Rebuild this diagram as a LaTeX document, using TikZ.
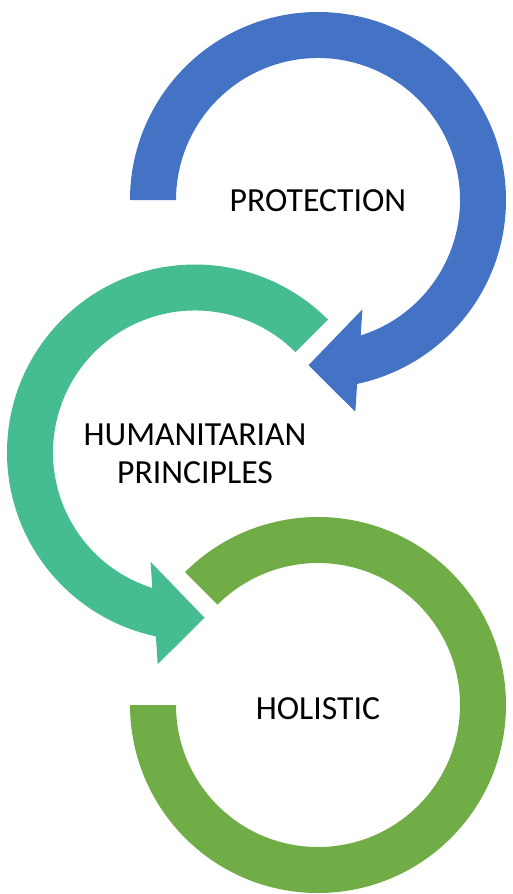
\documentclass[tikz,border=0pt]{standalone}
\usepackage{fontspec}
\setmainfont{Carlito}
\usepackage{tikz}
\usetikzlibrary{calc}
\definecolor{protblue}{HTML}{4472C4}
\definecolor{humteal}{HTML}{45BD90}
\definecolor{holgreen}{HTML}{70AD47}
\tikzset{
    ringlabel/.style={font=\fontsize{19.2}{21.8}\selectfont,align=center,inner sep=0pt}
}
\begin{document}
\begin{tikzpicture}[x=0.02cm,y=0.02cm]
    \useasboundingbox (0,0) rectangle (513,-894);
    \coordinate (pc) at (318,-200);
    \coordinate (hc) at (195,-452.5);
    \coordinate (oc) at (318,-705);
    \fill[protblue] ($(pc)+(180:188)$) arc[start angle=180,end angle=-78,radius=188]
        -- ($(pc)+(-80:215)$) -- ($(pc)+(-93.3:165.5)$) -- ($(pc)+(-67.9:118)$)
        -- ($(pc)+(-72.5:142)$) arc[start angle=-72.5,end angle=180,radius=142] -- cycle;
    \fill[humteal] ($(hc)+(45:188)$) arc[start angle=45,end angle=258,radius=188]
        -- ($(hc)+(260:215)$) -- ($(hc)+(273.3:165.5)$) -- ($(hc)+(247.9:118)$)
        -- ($(hc)+(252.5:142)$) arc[start angle=252.5,end angle=45,radius=142] -- cycle;
    \fill[holgreen] ($(oc)+(135:188)$) arc[start angle=135,end angle=-180,radius=188]
        -- ($(oc)+(180:142)$) arc[start angle=-180,end angle=135,radius=142] -- cycle;
    \node[ringlabel] (prot) at (318,-200.8) {PROTECTION};
    \node[ringlabel] (hum) at (195,-454) {HUMANITARIAN\\PRINCIPLES};
    \node[ringlabel] (hol) at (318,-709) {HOLISTIC};
\end{tikzpicture}
\end{document}
